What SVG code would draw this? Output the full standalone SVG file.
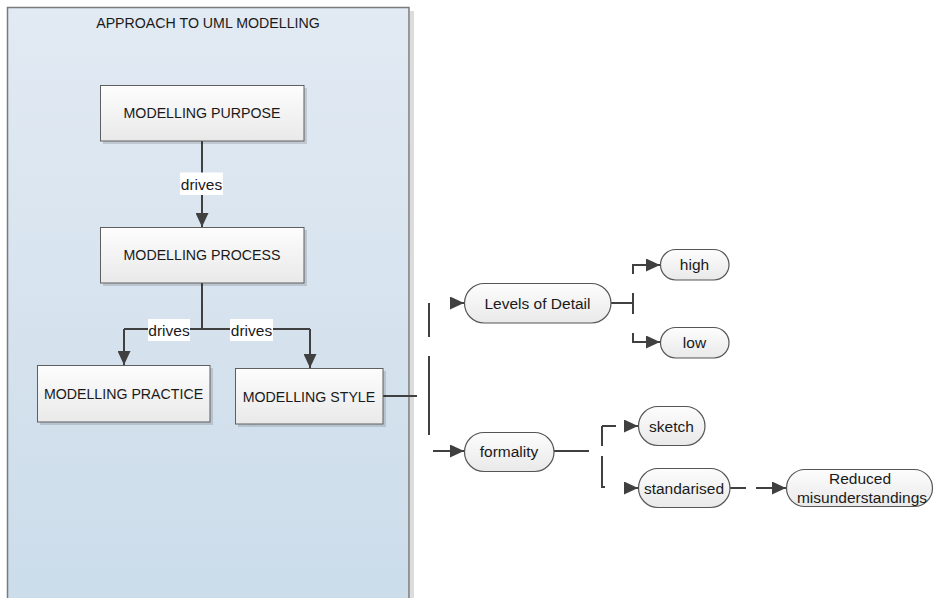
<svg xmlns="http://www.w3.org/2000/svg" width="935" height="598" viewBox="0 0 935 598">
<defs>
<linearGradient id="bg" x1="0" y1="0" x2="0" y2="1">
<stop offset="0" stop-color="#e2eaf3"/>
<stop offset="1" stop-color="#cbdcea"/>
</linearGradient>
<linearGradient id="box" x1="0" y1="0" x2="0" y2="1">
<stop offset="0" stop-color="#fdfdfd"/>
<stop offset="1" stop-color="#e9e9e9"/>
</linearGradient>
<marker id="ah" markerUnits="userSpaceOnUse" markerWidth="14" markerHeight="13" refX="14" refY="6.5" orient="auto">
<path d="M0,0 L14,6.5 L0,13 z" fill="#404040"/>
</marker>
<style>
.t{font-family:"Liberation Sans",Arial,sans-serif;fill:#1a1a1a;text-anchor:middle}
.up{font-size:14.2px}
.lo{font-size:15.5px}
.bx{fill:url(#box);stroke:#5f5f5f;stroke-width:1}
.sh{fill:#000;opacity:0.13}
.pl{fill:url(#box);stroke:#555;stroke-width:1.2}
.c{fill:none;stroke:#404040;stroke-width:2}
.lbl{fill:#fff}
</style>
</defs>

<g id="container">
<rect x="410" y="11" width="4" height="590" fill="#dcdcdc"/>
<rect x="7.5" y="7.5" width="401.5" height="600" fill="url(#bg)" stroke="#7a7a7a" stroke-width="1.5"/>
<text class="t up" x="208" y="27.5">APPROACH TO UML MODELLING</text>
</g>

<g id="connectors">
<path class="c" d="M202,141 V227" marker-end="url(#ah)"/>
<path class="c" d="M202,283 V329 M124,329 H310"/>
<path class="c" d="M124,329 V365" marker-end="url(#ah)"/>
<path class="c" d="M310,329 V368" marker-end="url(#ah)"/>
<path class="c" d="M383,396 H417"/>
<path class="c" d="M429,303 V337 M429,356 V435"/>
<path class="c" d="M450,303 H464" marker-end="url(#ah)"/>
<path class="c" d="M433,451 H464" marker-end="url(#ah)"/>
<path class="c" d="M611,303 H633 M633,293 V314"/>
<path class="c" d="M633,274 V265 H660" marker-end="url(#ah)"/>
<path class="c" d="M633,333 V342 H660" marker-end="url(#ah)"/>
<path class="c" d="M554,451 H589 M602,426 V446 M602,456 V487 H605 M602,426 H616"/>
<path class="c" d="M625,426 H638" marker-end="url(#ah)"/>
<path class="c" d="M625,488 H638" marker-end="url(#ah)"/>
<path class="c" d="M730,488 H746"/>
<path class="c" d="M756,488 H786" marker-end="url(#ah)"/>
<rect class="lbl" x="180" y="172.5" width="43" height="22.5"/>
<text class="t lo" x="201.5" y="189.5">drives</text>
<rect class="lbl" x="148" y="319" width="42" height="22"/>
<text class="t lo" x="169" y="335.5">drives</text>
<rect class="lbl" x="230" y="319" width="43" height="22"/>
<text class="t lo" x="251.5" y="335.5">drives</text>
</g>

<g id="purpose">
<rect class="sh" x="103" y="88" width="204" height="56"/>
<rect class="bx" x="100.5" y="85.5" width="203.5" height="55.5"/>
<text class="t up" x="202" y="118">MODELLING PURPOSE</text>
</g>
<g id="process">
<rect class="sh" x="103" y="230" width="204" height="56"/>
<rect class="bx" x="100.5" y="227.5" width="203.5" height="55.5"/>
<text class="t up" x="202" y="260">MODELLING PROCESS</text>
</g>
<g id="practice">
<rect class="sh" x="40" y="368" width="173" height="57"/>
<rect class="bx" x="37.5" y="365.5" width="172.5" height="56.5"/>
<text class="t up" x="123.5" y="398.5">MODELLING PRACTICE</text>
</g>
<g id="style">
<rect class="sh" x="238" y="371" width="148" height="56"/>
<rect class="bx" x="235.5" y="368.5" width="147.5" height="55.5"/>
<text class="t up" x="309" y="401.5">MODELLING STYLE</text>
</g>

<g id="levels">
<rect class="pl" x="464.5" y="283.5" width="146.5" height="39.5" rx="19.75"/>
<text class="t lo" x="537.5" y="308.5">Levels of Detail</text>
</g>
<g id="high">
<rect class="pl" x="660.5" y="249.5" width="68.5" height="30.5" rx="15.25"/>
<text class="t lo" x="694.5" y="270">high</text>
</g>
<g id="low">
<rect class="pl" x="660.5" y="327.5" width="68.5" height="30.5" rx="15.25"/>
<text class="t lo" x="694.5" y="348">low</text>
</g>
<g id="formality">
<rect class="pl" x="464.5" y="432.5" width="89.5" height="39" rx="19.5"/>
<text class="t lo" x="509" y="457">formality</text>
</g>
<g id="sketch">
<rect class="pl" x="638.5" y="406.5" width="66.5" height="39" rx="19.5"/>
<text class="t lo" x="671.5" y="431.5">sketch</text>
</g>
<g id="standarised">
<rect class="pl" x="638.5" y="468.5" width="91.5" height="39" rx="19.5"/>
<text class="t lo" x="684" y="493.5">standarised</text>
</g>
<g id="reduced">
<rect class="pl" x="786.5" y="469.5" width="146" height="37" rx="18.5"/>
<text class="t lo" x="860" y="483.5">Reduced</text>
<text class="t lo" x="862" y="503">misunderstandings</text>
</g>
</svg>
